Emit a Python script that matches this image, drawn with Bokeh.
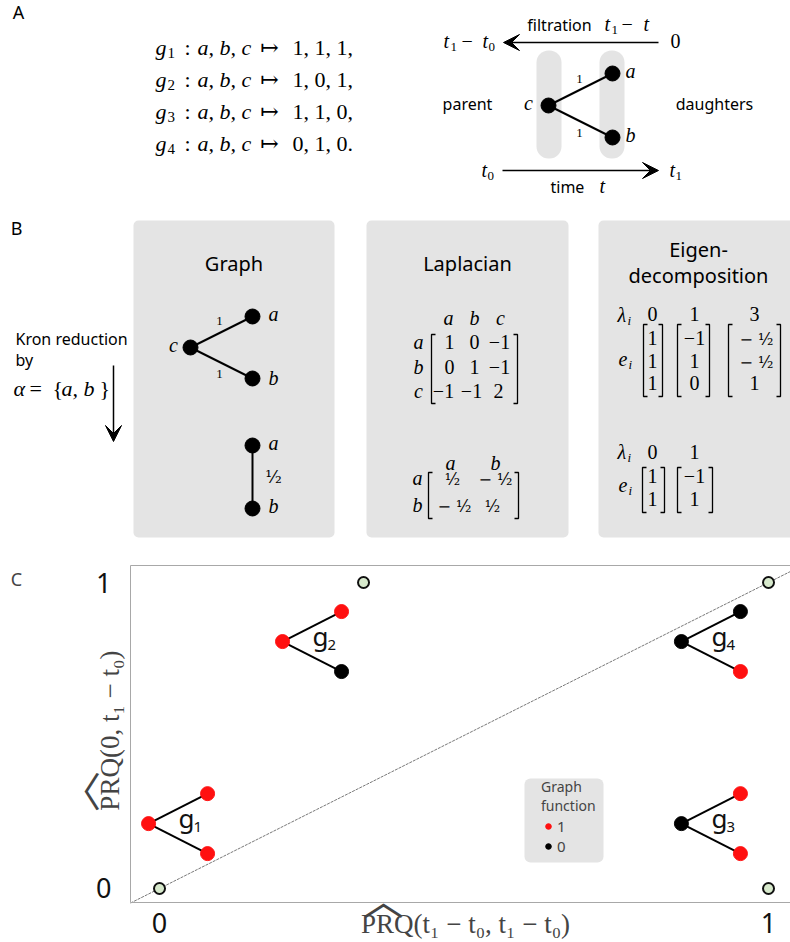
from bokeh.plotting import figure
from bokeh.models import (Range1d, Arrow, VeeHead, Label, FixedTicker, LinearAxis,
                          Legend, LegendItem, BoxAnnotation)
from bokeh.layouts import column
from bokeh.embed import file_html
from bokeh.resources import INLINE
from bokeh.core.properties import value

SANS = "Noto Sans"
SERIF = "Liberation Serif"
SYM = "DejaVu Serif"
BOX = "#e4e4e4"
RED = "#ff1010"
# vertical distance (in em) from a "middle" anchor down to the glyph baseline
MID_TO_BASE = {SANS: 0.39, SERIF: 0.36, SYM: 0.36}

# ---------------- data ----------------
# Panel A: graph functions g_k : a, b, c -> values
func_index = ["1", "2", "3", "4"]
func_values_text = ["1, 1, 1,", "1, 0, 1,", "1, 1, 0,", "0, 1, 0."]
val_a = [1, 1, 1, 0]
val_b = [1, 0, 1, 1]
val_c = [1, 1, 0, 0]
edge_weights = ["1", "1"]
reduced_edge_weight = "¹⁄₂"

# Panel B: Laplacian and eigen-decomposition
lap_nodes = ["a", "b", "c"]
lap_rows = [["1", "0", "−1"], ["0", "1", "−1"], ["−1", "−1", "2"]]
red_nodes = ["a", "b"]
red_rows = [["¹⁄₂", "− ¹⁄₂"], ["− ¹⁄₂", "¹⁄₂"]]
eig_vals = ["0", "1", "3"]
eig_vecs = [["1", "1", "1"], ["−1", "1", "0"], ["− ¹⁄₂", "− ¹⁄₂", "1"]]
red_eig_vals = ["0", "1"]
red_eig_vecs = [["1", "1"], ["−1", "1"]]

# Panel C: PRQ values and placed graph glyphs
prq_x = [0.0, 0.335, 1.0, 1.0]
prq_y = [0.0, 1.0, 1.0, 0.0]
glyph_x = [-0.018, 0.202, 0.857, 0.857]
glyph_y = [0.212, 0.807, 0.212, 0.807]
tick_vals = [0, 1]

# ---------------- layout positions (pixel space of top figure) ----------------
formula_baseline = [55, 87, 119, 151]

T = dict(x=[], y=[], text=[], font=[], size=[], style=[], align=[])


def put(x, y, s, size, font=SERIF, style="normal", align="left"):
    """y is the desired glyph baseline (pixels from top)."""
    T["x"].append(x)
    T["y"].append(y - MID_TO_BASE[font] * size)
    T["text"].append(s)
    T["font"].append(font)
    T["size"].append(f"{size}px")
    T["style"].append(style)
    T["align"].append(align)


H1 = 556
p1 = figure(width=790, height=H1, x_range=Range1d(0, 790), y_range=Range1d(H1, 0),
            output_backend="svg", toolbar_location=None, min_border=0,
            x_axis_location=None, y_axis_location=None)
p1.grid.visible = False
p1.outline_line_color = None

# ---- Panel A ----
put(18, 19, "A", 18, font=SANS, align="center")
for k in range(4):
    yb = formula_baseline[k]
    put(155, yb, "g", 22, style="italic")
    put(167, yb + 3, func_index[k], 15)
    put(184, yb, ":", 22)
    put(197, yb, "a, b, c", 22, style="italic")
    put(269, yb, "↦", 22, font=SYM, align="center")
    put(292, yb, func_values_text[k], 22)

# filtration / time diagram
p1.quad(left=[536, 599], right=[561, 624], top=[50, 50], bottom=[158, 158],
        fill_color=BOX, line_color=None, border_radius=12)
p1.segment(x0=[548, 548], y0=[105, 105], x1=[612, 612], y1=[73, 137],
           line_color="black", line_width=2)
p1.scatter(x=[548, 612, 612], y=[105, 73, 137], size=15, color="black")
put(528, 110, "c", 20, style="italic", align="center")
put(630, 78, "a", 20, style="italic", align="center")
put(630, 142, "b", 20, style="italic", align="center")
put(579, 83, edge_weights[0], 13, align="center")
put(579, 137, edge_weights[1], 13, align="center")
put(467, 110, "parent", 16, font=SANS, align="center")
put(714, 110, "daughters", 16, font=SANS, align="center")

put(559, 31, "filtration", 16, font=SANS, align="center")
put(604, 31, "t", 20, style="italic")
put(611, 34, "1", 13)
put(621, 31, "−", 20)
put(643, 31, "t", 20, style="italic")
put(443, 48, "t", 20, style="italic")
put(450, 51, "1", 13)
put(461, 48, "−", 20)
put(482, 48, "t", 20, style="italic")
put(488, 51, "0", 13)
put(670, 48, "0", 20)
p1.add_layout(Arrow(end=VeeHead(size=16, fill_color="black", line_color="black"),
                    x_start=658, y_start=42, x_end=503, y_end=42,
                    line_width=1.5, line_color="black"))

p1.add_layout(Arrow(end=VeeHead(size=16, fill_color="black", line_color="black"),
                    x_start=502, y_start=170, x_end=658, y_end=170,
                    line_width=1.5, line_color="black"))
put(481, 177, "t", 20, style="italic")
put(487, 180, "0", 13)
put(669, 177, "t", 20, style="italic")
put(675, 180, "1", 13)
put(550, 193, "time", 16, font=SANS)
put(599, 193, "t", 20, style="italic")

# ---- Panel B ----
put(16, 235, "B", 18, font=SANS, align="center")
p1.quad(left=[133, 366, 598], right=[334, 568, 800], top=[220, 220, 220],
        bottom=[537, 537, 537], fill_color=BOX, line_color=None, border_radius=5)
put(233.5, 271, "Graph", 20, font=SANS, align="center")
put(467, 271, "Laplacian", 20, font=SANS, align="center")
put(698, 257, "Eigen-", 20, font=SANS, align="center")
put(698, 283, "decomposition", 20, font=SANS, align="center")

# graph
p1.segment(x0=[190, 190, 252], y0=[347, 347, 445], x1=[252, 252, 252], y1=[316, 378, 508],
           line_color="black", line_width=2)
p1.scatter(x=[190, 252, 252, 252, 252], y=[347, 316, 378, 445, 508], size=15, color="black")
put(273, 321, "a", 20, style="italic", align="center")
put(273, 385, "b", 20, style="italic", align="center")
put(173, 352, "c", 20, style="italic", align="center")
put(219, 325, edge_weights[0], 13, align="center")
put(219, 378, edge_weights[1], 13, align="center")
put(273, 450, "a", 20, style="italic", align="center")
put(273, 513, "b", 20, style="italic", align="center")
put(273, 483, reduced_edge_weight, 17, font=SYM, align="center")

# Kron reduction
put(15, 345, "Kron reduction", 16, font=SANS)
put(15, 366, "by", 16, font=SANS)
put(13, 396, "α", 22, style="italic")
put(29, 396, "=", 22)
put(52, 396, "{", 22)
put(61, 396, "a, b", 22, style="italic")
put(99, 396, "}", 22)
p1.add_layout(Arrow(end=VeeHead(size=16, fill_color="black", line_color="black"),
                    x_start=113, y_start=365, x_end=113, y_end=441,
                    line_width=1.5, line_color="black"))

# brackets helper
BX, BY = [], []


def bracket(xl, xr, top, bot, w=4):
    BX.append([xl + w, xl, xl, xl + w])
    BY.append([top, top, bot, bot])
    BX.append([xr - w, xr, xr, xr - w])
    BY.append([top, top, bot, bot])


# Laplacian 3x3
lap_col_x = [448, 474, 500]
lap_row_y = [349, 374, 398]
lap_entry_x = [[449, 474, 499], [449, 474, 499], [443, 471, 498]]
for j, n in enumerate(lap_nodes):
    put(lap_col_x[j], 325, n, 20, style="italic", align="center")
    put(418, lap_row_y[j], n, 20, style="italic", align="center")
for i in range(3):
    for j in range(3):
        put(lap_entry_x[i][j], lap_row_y[i], lap_rows[i][j], 20, align="center")
bracket(431, 517, 334, 403)

# reduced Laplacian 2x2
red_col_x = [450, 495]
red_row_y = [485, 512]
red_entry_x = [[452, 495], [454, 492]]
for j, n in enumerate(red_nodes):
    put(red_col_x[j], 470, n, 20, style="italic", align="center")
    put(417, red_row_y[j], n, 20, style="italic", align="center")
for i in range(2):
    for j in range(2):
        put(red_entry_x[i][j], red_row_y[i], red_rows[i][j], 16, font=SYM, align="center")
bracket(428, 518, 472, 518)

# eigen decomposition (3 nodes)
eig_col_x = [652, 694, 754]
eig_row_y = [345, 368, 390]
put(617, 322, "λ", 20, style="italic")
put(627, 325, "i", 13, style="italic")
put(618, 366, "e", 20, style="italic")
put(628, 369, "i", 13, style="italic")
for j in range(3):
    put(eig_col_x[j], 321, eig_vals[j], 20, align="center")
    for i in range(3):
        s = eig_vecs[j][i]
        if "⁄" in s:
            put(eig_col_x[j] + 2, eig_row_y[i], s, 16, font=SYM, align="center")
        else:
            put(eig_col_x[j], eig_row_y[i], s, 20, align="center")
bracket(643, 662, 324, 396)
bracket(677, 709, 324, 396)
bracket(728, 780, 324, 396)

# eigen decomposition (reduced)
red_eig_row_y = [483, 506]
put(617, 459, "λ", 20, style="italic")
put(627, 462, "i", 13, style="italic")
put(618, 492, "e", 20, style="italic")
put(628, 495, "i", 13, style="italic")
for j in range(2):
    put(eig_col_x[j], 459, red_eig_vals[j], 20, align="center")
    for i in range(2):
        put(eig_col_x[j], red_eig_row_y[i], red_eig_vecs[j][i], 20, align="center")
bracket(642, 664, 467, 512)
bracket(677, 712, 467, 512)

p1.multi_line(xs=BX, ys=BY, line_color="black", line_width=1.3)

p1.text(x="x", y="y", text="text", source=T, text_font="font", text_font_size="size",
        text_font_style="style", text_align="align", text_baseline="middle",
        text_color="black")

# ---------------- Panel C ----------------
H2 = 942 - H1
X_LO, X_HI = -0.0476, 1.0361      # axis box in data units
Y_LO, Y_HI = -0.0458, 1.0556
p2 = figure(width=790, height=H2, x_range=Range1d(-0.2611, X_HI),
            y_range=Range1d(-0.1765, 1.0850), output_backend="svg", toolbar_location=None,
            min_border=0)
p2.grid.visible = False
p2.outline_line_color = None
AX_COL = "#a8a8a8"
for ax in (p2.xaxis[0], p2.yaxis[0]):
    ax.ticker = FixedTicker(ticks=tick_vals)
    ax.major_tick_out = 0
    ax.major_tick_in = 0
    ax.minor_tick_out = 0
    ax.minor_tick_in = 0
    ax.axis_line_color = AX_COL
    ax.major_label_text_font = SANS
    ax.major_label_text_font_size = "27px"
    ax.major_label_text_color = "#111111"
p2.xaxis[0].fixed_location = Y_LO
p2.xaxis[0].bounds = (X_LO, X_HI)
p2.xaxis[0].major_label_standoff = 10
p2.yaxis[0].fixed_location = X_LO
p2.yaxis[0].bounds = (Y_LO, Y_HI)
p2.yaxis[0].major_label_standoff = 19
top_ax = LinearAxis(fixed_location=Y_HI, bounds=(X_LO, X_HI), ticker=FixedTicker(ticks=[]),
                    major_tick_out=0, major_tick_in=0, minor_tick_out=0, minor_tick_in=0,
                    axis_line_color=AX_COL, major_label_text_font_size="0px")
p2.add_layout(top_ax, "above")

# y = x reference line across the axis box
p2.line(x=[X_LO, X_HI], y=[X_LO, X_HI], line_color="#555555", line_width=0.8,
        line_dash="3 1")

# graph glyphs
DX, DY = 0.0969, 0.098
ex0, ey0, ex1, ey1 = [], [], [], []
rx, ry, bx, by = [], [], [], []
for k in range(4):
    cx, cy = glyph_x[k], glyph_y[k]
    ex0 += [cx, cx]
    ey0 += [cy, cy]
    ex1 += [cx + DX, cx + DX]
    ey1 += [cy + DY, cy - DY]
    for v, px, py in ((val_a[k], cx + DX, cy + DY), (val_b[k], cx + DX, cy - DY),
                      (val_c[k], cx, cy)):
        if v:
            rx.append(px)
            ry.append(py)
        else:
            bx.append(px)
            by.append(py)
p2.segment(x0=ex0, y0=ey0, x1=ex1, y1=ey1, line_color="black", line_width=2)
r_red = p2.scatter(x=rx, y=ry, size=14, color=RED)
r_blk = p2.scatter(x=bx, y=by, size=14, color="black")
# "g" label: baseline 5 px below the parent node; subscript baseline 9 px below
p2.text(x=glyph_x, y=glyph_y, text=["g"] * 4, x_offset=30,
        y_offset=5 - MID_TO_BASE[SANS] * 26,
        text_font_size="26px", text_font=value(SANS),
        text_baseline="middle", text_color="#111111")
p2.text(x=glyph_x, y=glyph_y, text=func_index, x_offset=45,
        y_offset=9 - MID_TO_BASE[SANS] * 15,
        text_font_size="15px", text_font=value(SANS),
        text_baseline="middle", text_color="#111111")

p2.scatter(x=prq_x, y=prq_y, size=11, fill_color="#d7e9cc", line_color="#111111", line_width=2)

# legend: rounded grey panel + legend entries on top of it
p2.add_layout(BoxAnnotation(left=0.5993, right=0.7291, bottom=0.0850, top=0.3595,
                            fill_color=BOX, fill_alpha=1.0, line_color=None,
                            border_radius=6))
leg = Legend(items=[LegendItem(label="1", renderers=[r_red]),
                    LegendItem(label="0", renderers=[r_blk])],
             title="Graph\nfunction", location=(541, 86), orientation="vertical",
             background_fill_alpha=0.0, border_line_color=None,
             padding=0, margin=0, spacing=0, glyph_width=14, glyph_height=16,
             label_height=16, label_standoff=2, title_standoff=1,
             title_text_font=SANS, title_text_font_size="14px", title_text_font_style="normal",
             title_text_line_height=1.1,
             label_text_font=SANS, label_text_font_size="15px")
p2.add_layout(leg)

# axis titles and panel letter
p2.add_layout(Label(x=-0.2348, y=1.0131, text="C", text_font=SANS, text_font_size="18px",
                    text_align="center", text_baseline="middle"))
p2.add_layout(Label(x=0.5025, y=-0.1176, text="PRQ(t₁ − t₀, t₁ − t₀)", text_font=SERIF,
                    text_font_size="27px", text_align="center", text_baseline="middle"))
p2.add_layout(Label(x=0.3678, y=-0.0327, text="︿", text_font="Noto Sans CJK SC",
                    text_font_size="40px", text_align="center", text_baseline="middle"))
p2.add_layout(Label(x=-0.0821, y=0.516, text="PRQ(0, t₁ − t₀)", text_font=SERIF,
                    text_font_size="27px", text_align="center", text_baseline="middle",
                    angle=1.5708))
p2.add_layout(Label(x=-0.1314, y=0.317, text="︿", text_font="Noto Sans CJK SC",
                    text_font_size="40px", text_align="center", text_baseline="middle",
                    angle=1.5708))

layout = column(p1, p2)
open("out.html", "w").write(file_html(layout, INLINE))
